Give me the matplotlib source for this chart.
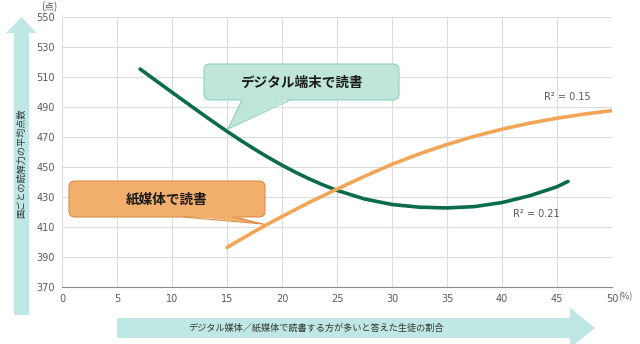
import matplotlib
matplotlib.use("Agg")
import matplotlib.pyplot as plt
from matplotlib import transforms
from matplotlib.patches import FancyBboxPatch, FancyArrow, Polygon
from matplotlib.lines import Line2D

plt.rcParams["font.family"] = ["Noto Sans CJK JP", "DejaVu Sans"]

# trend curves (share of students, average reading score)
digital_x = [7.1, 8.5, 10, 11.25, 12.5, 13.75, 15, 16.25, 17.5, 18.75, 20, 21.25, 22.5, 23.75,
             25, 27.5, 30, 32.5, 35, 37.5, 40, 42.5, 45, 46]
digital_y = [515.3, 507.8, 499.8, 493.2, 486.6, 480.1, 473.8, 467.7, 461.9, 456.4, 451.2, 446.4,
             442.0, 438.0, 434.4, 428.7, 425.0, 423.2, 422.7, 423.6, 426.3, 430.8, 436.8, 440.4]
paper_x = [15, 16.25, 17.5, 18.75, 20, 22.5, 25, 27.5, 30, 32.5, 35, 37.5, 40, 42.5, 45, 47.5, 50]
paper_y = [396.3, 401.7, 407.0, 412.1, 417.0, 426.5, 435.3, 443.8, 451.8, 458.8, 465.0, 470.5,
           475.2, 479.2, 482.5, 485.3, 487.6]

x_ticks = [0, 5, 10, 15, 20, 25, 30, 35, 40, 45, 50]
y_ticks = [370, 390, 410, 430, 450, 470, 490, 510, 530, 550]

GREEN = "#0b6b4c"
ORANGE = "#f2a556"
TEAL_ARROW = "#bfe8e4"
TEXT_GRAY = "#595959"

W, H = 640, 344
fig = plt.figure(figsize=(W / 100, H / 100), dpi=100)
# pixel coordinates measured from the top-left corner
px = transforms.Affine2D().scale(1 / W, -1 / H).translate(0, 1) + fig.transFigure

ax = fig.add_axes([62 / W, 57 / H, 550 / W, 270 / H])
ax.set_xlim(0, 50)
ax.set_ylim(370, 550)
ax.set_xticks(x_ticks)
ax.set_yticks(y_ticks)
ax.grid(True, color="#dcdcdc", linewidth=0.8)
ax.set_axisbelow(True)
for side in ["top", "right", "left"]:
    ax.spines[side].set_visible(False)
ax.spines["bottom"].set_color("#8c8c8c")
ax.tick_params(length=0, labelcolor=TEXT_GRAY, pad=5)
for lbl in ax.get_xticklabels() + ax.get_yticklabels():
    lbl.set_fontfamily("DejaVu Sans")
    lbl.set_fontsize(7)

ax.plot(digital_x, digital_y, color=GREEN, linewidth=2.6, solid_capstyle="round", zorder=3)
ax.plot(paper_x, paper_y, color=ORANGE, linewidth=2.6, solid_capstyle="round", zorder=3)

ax.text(45.9, 497, "R² = 0.15", fontsize=7, family="DejaVu Sans", color=TEXT_GRAY,
        ha="center", va="center")
ax.text(43.1, 419, "R² = 0.21", fontsize=7, family="DejaVu Sans", color=TEXT_GRAY,
        ha="center", va="center")

fig.text(49, 7, "(点)", transform=px, fontsize=7, color=TEXT_GRAY, ha="center", va="center")
fig.text(625, 297, "(%)", transform=px, fontsize=6.5, color=TEXT_GRAY, ha="center", va="center")


def callout(box, base, tip, face, edge, label):
    x0, y0, x1, y1 = box
    rect = FancyBboxPatch((x0, y0), x1 - x0, y1 - y0, boxstyle="round,pad=0,rounding_size=6",
                          transform=px, facecolor=face, edgecolor=edge, linewidth=0.8, zorder=4)
    fig.add_artist(rect)
    (bx0, by0), (bx1, by1) = base
    tail = Polygon([(bx0, by0 - 1.5), (bx1, by1 - 1.5), tip], closed=True, transform=px,
                   facecolor=face, edgecolor="none", zorder=5)
    fig.add_artist(tail)
    for bx, by in base:
        fig.add_artist(Line2D([bx, tip[0]], [by, tip[1]], transform=px, color=edge,
                              linewidth=0.8, zorder=6))
    fig.text((x0 + x1) / 2, (y0 + y1) / 2 + 1, label, transform=px, fontsize=9.8,
             fontweight="bold", color="#1a1a1a", ha="center", va="center", zorder=7)


callout((204, 64, 399, 100), [(242, 100), (290, 100)], (228, 129),
        "#bfe6db", "#93cfbf", "デジタル端末で読書")
callout((69, 181, 265, 217), [(183, 217), (233, 217)], (263, 224),
        "#f2ae6c", "#d98e45", "紙媒体で読書")

# vertical axis arrow
fig.add_artist(FancyArrow(21.5, 315, 0, -298, width=15, head_width=31, head_length=16,
                          length_includes_head=True, transform=px, facecolor=TEAL_ARROW,
                          edgecolor="none", zorder=1))
fig.text(21.5, 163, "国ごとの読解力の平均点数", transform=px, rotation=90, fontsize=6.6,
         color="#333333", ha="center", va="center", zorder=2)

# horizontal axis arrow
fig.add_artist(FancyArrow(117, 328, 478, 0, width=20, head_width=41, head_length=25,
                          length_includes_head=True, transform=px, facecolor=TEAL_ARROW,
                          edgecolor="none", zorder=1))
fig.text(316, 328, "デジタル媒体／紙媒体で読書する方が多いと答えた生徒の割合", transform=px,
         fontsize=6.6, color="#333333", ha="center", va="center", zorder=2)

fig.savefig("out.png", dpi=100, facecolor="white")
